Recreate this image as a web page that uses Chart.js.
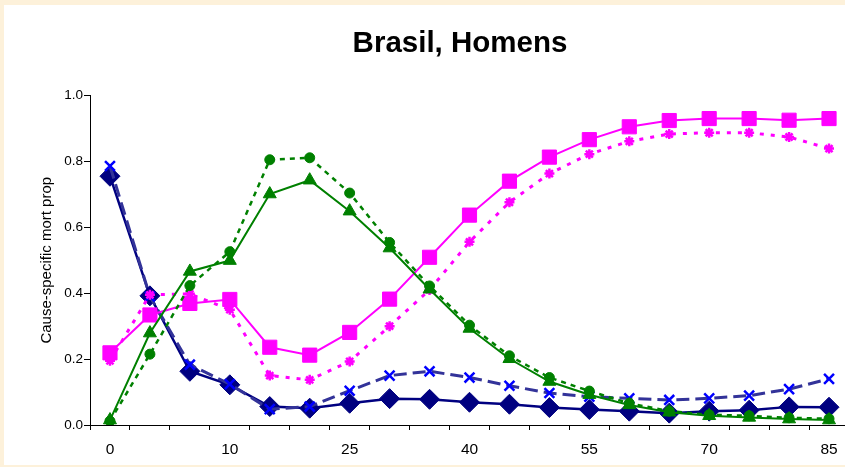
<!DOCTYPE html>
<html>
<head>
<meta charset="utf-8">
<script src="https://cdn.jsdelivr.net/npm/chart.js@4/dist/chart.umd.min.js"></script>
<style>
    html, body { margin: 0; padding: 0; }
    body { width: 845px; height: 467px; background: #fdf1da; overflow: hidden; position: relative; }
    #panel { position: absolute; left: 4px; top: 5px; width: 841px; height: 460px; background: #fff; overflow: hidden; }
    #chart { display: block; }
</style>
</head>
<body>
<div id="panel"><canvas id="chart" width="856" height="460"></canvas></div>
<script>
'use strict';

// idades (categorias do eixo x)
const idades = ['0', '1', '5', '10', '15', '20', '25', '30', '35', '40', '45', '50', '55', '60', '65', '70', '75', '80', '85'];
const yTicks = [0, 0.2, 0.4, 0.6, 0.8, 1.0];

// proporções
const serieLosango = [0.755, 0.392, 0.163, 0.122, 0.056, 0.051, 0.066, 0.080, 0.078, 0.069, 0.063, 0.053, 0.047, 0.042, 0.036, 0.042, 0.045, 0.055, 0.054];
const serieXAzul   = [0.786, 0.390, 0.183, 0.124, 0.048, 0.056, 0.104, 0.150, 0.163, 0.144, 0.119, 0.097, 0.086, 0.081, 0.076, 0.081, 0.089, 0.109, 0.140];
const serieQuadrado = [0.219, 0.334, 0.369, 0.381, 0.236, 0.212, 0.281, 0.382, 0.509, 0.637, 0.740, 0.813, 0.866, 0.905, 0.924, 0.930, 0.930, 0.925, 0.930];
const serieEstrela = [0.195, 0.395, 0.398, 0.350, 0.150, 0.137, 0.193, 0.300, 0.410, 0.556, 0.676, 0.763, 0.822, 0.861, 0.883, 0.887, 0.887, 0.874, 0.839];
const serieTriangulo = [0.015, 0.279, 0.466, 0.499, 0.701, 0.743, 0.649, 0.537, 0.412, 0.293, 0.201, 0.132, 0.092, 0.061, 0.039, 0.028, 0.023, 0.018, 0.015];
const serieCirculo = [0.012, 0.215, 0.423, 0.526, 0.805, 0.811, 0.704, 0.554, 0.422, 0.303, 0.210, 0.144, 0.103, 0.066, 0.042, 0.031, 0.028, 0.022, 0.019];

const titulo = 'Brasil, Homens';
const font = 'Liberation Sans, Arial, sans-serif';

// no Chart.js o primeiro dataset fica por cima, por isso 'order' inverte
const datasets = [
    { data: serieLosango, borderColor: '#000080', borderWidth: 2.5, pointStyle: 'rectRot', pointRadius: 10,
      pointBackgroundColor: '#000080', pointBorderColor: '#000080', order: 6 },
    { data: serieXAzul, borderColor: '#333399', borderWidth: 3, borderDash: [13, 6], pointStyle: 'crossRot', pointRadius: 7,
      pointBorderColor: '#0000ff', pointBorderWidth: 2.5, order: 5 },
    { data: serieQuadrado, borderColor: '#ff00ff', borderWidth: 2, pointStyle: 'rect', pointRadius: 10,
      pointBackgroundColor: '#ff00ff', pointBorderColor: '#ff00ff', order: 4 },
    { data: serieEstrela, borderColor: '#ff00ff', borderWidth: 3, borderDash: [4, 7], pointStyle: 'star', pointRadius: 5,
      pointBorderColor: '#ff00ff', pointBorderWidth: 2.5, order: 3 },
    { data: serieTriangulo, borderColor: '#008000', borderWidth: 2, pointStyle: 'triangle', pointRadius: 7.5,
      pointBackgroundColor: '#008000', pointBorderColor: '#008000', order: 2 },
    { data: serieCirculo, borderColor: '#008000', borderWidth: 2.5, borderDash: [5, 5], pointStyle: 'circle', pointRadius: 5,
      pointBackgroundColor: '#008000', pointBorderColor: '#008000', order: 1 }
].map(ds => ({ fill: false, tension: 0, pointBorderWidth: 1, ...ds }));

// título desenhado à mão: o painel do original não está centrado no canvas
const tituloPlugin = {
    id: 'tituloManual',
    afterDraw(chart) {
        const ctx = chart.ctx;
        ctx.save();
        ctx.font = `bold 29.5px ${font}`;
        ctx.fillStyle = '#000';
        ctx.textAlign = 'center';
        ctx.textBaseline = 'alphabetic';
        ctx.fillText(titulo, 456, 46.5);
        ctx.restore();
    }
};

new Chart(document.getElementById('chart').getContext('2d'), {
    type: 'line',
    data: { labels: idades, datasets },
    plugins: [tituloPlugin],
    options: {
        responsive: false,
        animation: false,
        layout: { padding: { top: 90.5, left: 0, right: 0, bottom: -3.5 } },
        plugins: {
            legend: { display: false },
            tooltip: { enabled: false },
            title: { display: false }
        },
        scales: {
            x: {
                type: 'category',
                offset: true,
                grid: { offset: true, drawOnChartArea: false, drawTicks: true, tickLength: 5, color: '#000' },
                border: { display: true, color: '#000', width: 1 },
                ticks: {
                    autoSkip: false, maxRotation: 0, color: '#000', padding: 11.5,
                    font: { family: font, size: 15.5, lineHeight: 1 },
                    callback: (v, i) => (i % 3 === 0 ? idades[i] : '')
                }
            },
            y: {
                min: 0, max: 1,
                afterBuildTicks: scale => { scale.ticks = yTicks.map(value => ({ value })); },
                afterFit: scale => { scale.width = 86; },
                grid: { drawOnChartArea: false, drawTicks: true, tickLength: 6, color: '#000' },
                border: { display: true, color: '#000', width: 1 },
                ticks: { color: '#000', padding: 1, font: { family: font, size: 13.5 }, callback: v => v.toFixed(1) },
                title: {
                    display: true,
                    text: 'Cause-specific mort prop',
                    color: '#000',
                    font: { family: font, size: 15 },
                    padding: { top: 34, bottom: 0 }
                }
            }
        }
    }
});
</script>
</body>
</html>
